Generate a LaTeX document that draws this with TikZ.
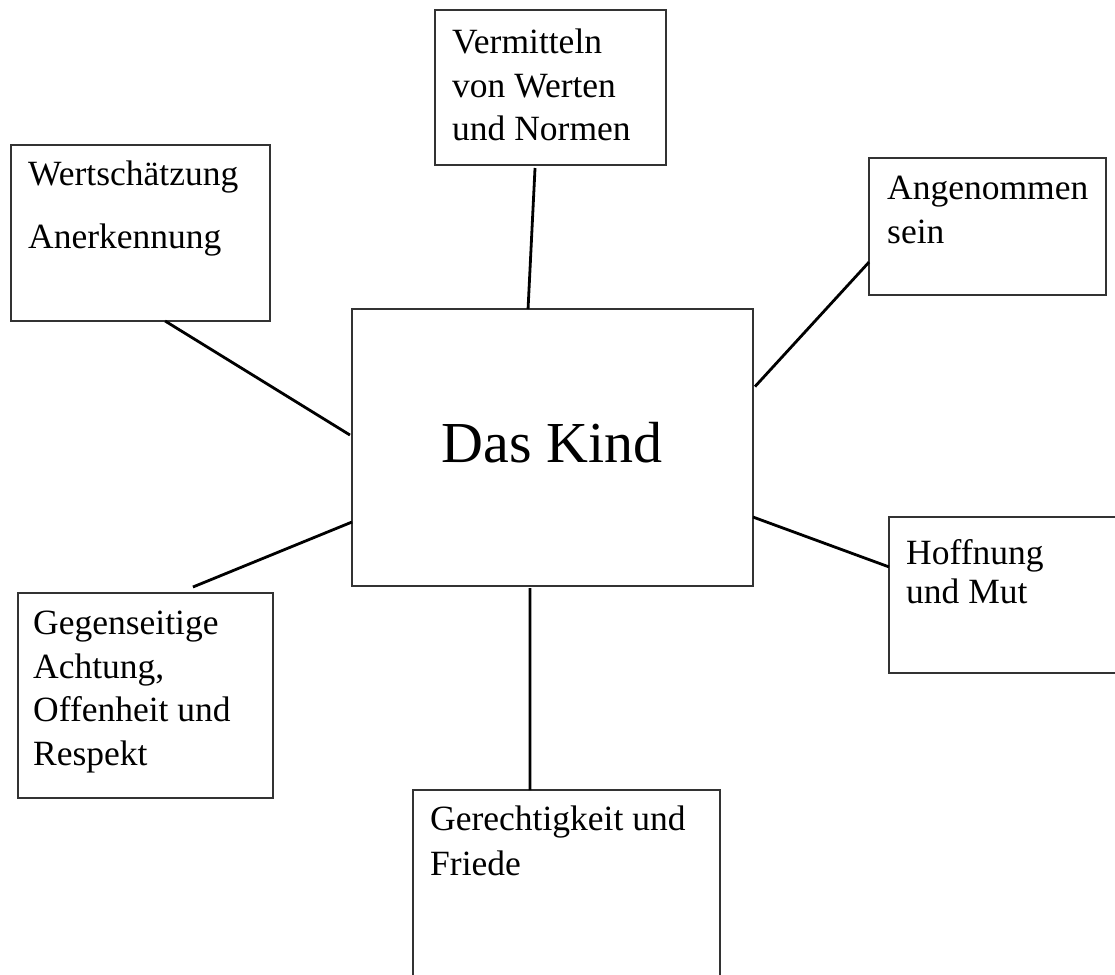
\documentclass[tikz,border=0pt]{standalone}
\usepackage{fontspec}
\setmainfont{Liberation Serif}
\usetikzlibrary{calc}
\tikzset{
  box/.style={draw=black!80, line width=1.3pt, rectangle, inner sep=0pt, outer sep=0pt},
  label/.style={anchor=north west, inner sep=0pt, align=left, font=\fontsize{35.5}{43.5}\selectfont},
  link/.style={draw=black, line width=2.8pt}
}
\begin{document}
\begin{tikzpicture}[x=1pt,y=-1pt]
\useasboundingbox (0,0) rectangle (1115,974);
\clip (0,0) rectangle (1115,974);
% boxes
\node[box, minimum width=401pt, minimum height=277pt] (c) at (552.5,447.5) {};
\node[box, minimum width=231pt, minimum height=155pt] (top) at (550.5,87.5) {};
\node[box, minimum width=259pt, minimum height=176pt] (tl) at (140.5,233) {};
\node[box, minimum width=237pt, minimum height=137pt] (tr) at (987.5,226.5) {};
\node[box, minimum width=241pt, minimum height=156pt] (r) at (1009.5,595) {};
\node[box, minimum width=255pt, minimum height=205pt] (bl) at (145.5,695.5) {};
\node[box, minimum width=307pt, minimum height=220pt] (b) at (566.5,900) {};
% texts
\node[anchor=base, inner sep=0pt, font=\fontsize{58}{70}\selectfont] (ct) at (552,462) {Das Kind};
\node[label] (topt) at (452,29) {Vermitteln\\von Werten\\und Normen};
\node[label] (tlt) at (28,161) {Wertschätzung\\[19.5pt]Anerkennung};
\node[label] (trt) at (887,176) {Angenommen\\sein};
\node[label, font=\fontsize{35.5}{39}\selectfont] (rt) at (906,539) {Hoffnung\\und Mut};
\node[label] (blt) at (33,611) {Gegenseitige\\Achtung,\\Offenheit und\\Respekt};
\node[label, font=\fontsize{35.5}{45}\selectfont] (bt) at (430,806) {Gerechtigkeit und\\Friede};
% connectors
\draw[link] ($(top.south west)!0.433!(top.south east)+(0,3)$) -- ($(c.north west)!0.439!(c.north east)$);
\draw[link] ($(tl.south west)!0.595!(tl.south east)$) -- ($(c.north west)!0.455!(c.south west)+(-2,0)$);
\draw[link] ($(tr.north west)!0.76!(tr.south west)$) -- ($(c.north east)!0.28!(c.south east)+(2,0)$);
\draw[link] ($(c.north east)!0.751!(c.south east)$) -- ($(r.north west)!0.32!(r.south west)$);
\draw[link] ($(c.north west)!0.769!(c.south west)$) -- ($(bl.north west)!0.686!(bl.north east)+(0,-6)$);
\draw[link] ($(c.south west)!0.444!(c.south east)+(0,2)$) -- ($(b.north west)!0.381!(b.north east)$);
\end{tikzpicture}
\end{document}
